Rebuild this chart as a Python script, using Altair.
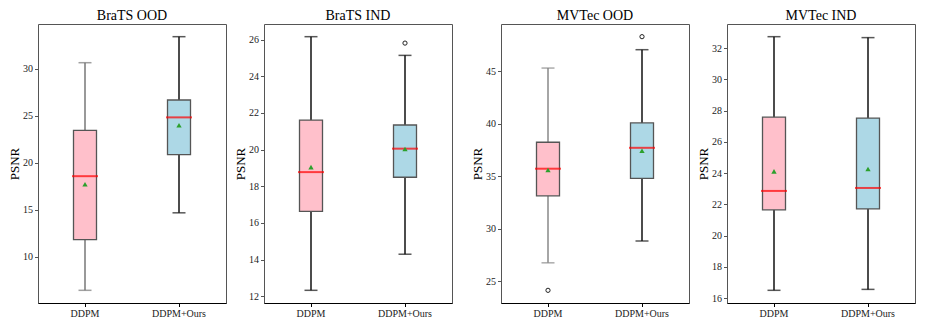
import altair as alt
import pandas as pd

panels = ["BraTS OOD", "BraTS IND", "MVTec OOD", "MVTec IND"]
methods = ["DDPM", "DDPM+Ours"]

whisker_low = [[6.4, 14.65], [12.32, 14.29], [26.75, 28.83], [16.5, 16.56]]
q1 = [[11.8, 20.85], [16.63, 18.49], [33.13, 34.79], [21.65, 21.71]]
median = [[18.55, 24.81], [18.77, 20.05], [35.72, 37.71], [22.86, 23.05]]
mean = [[17.7, 23.98], [19.04, 20.03], [35.59, 37.43], [24.11, 24.26]]
q3 = [[23.42, 26.66], [21.61, 21.34], [38.24, 40.08], [27.58, 27.52]]
whisker_high = [[30.63, 33.4], [26.16, 25.14], [45.31, 47.06], [32.73, 32.67]]
outliers = [[[], []], [[], [25.81]], [[24.13], [48.3]], [[], []]]
y_ticks = [
    [10, 15, 20, 25, 30],
    [12, 14, 16, 18, 20, 22, 24, 26],
    [25, 30, 35, 40, 45],
    [16, 18, 20, 22, 24, 26, 28, 30, 32],
]

# styling (not data)
box_colors = ["pink", "lightblue"]
whisker_colors = [["#777777", "#111111"], ["#111111", "#111111"],
                  ["#888888", "#111111"], ["#111111", "#111111"]]

FONT = "Liberation Serif"
W, H = 188, 279


def panel(i):
    rows = []
    for j, m in enumerate(methods):
        rows.append(dict(method=m, lo=whisker_low[i][j], q1=q1[i][j], med=median[i][j],
                         mean=mean[i][j], q3=q3[i][j], hi=whisker_high[i][j],
                         wc=whisker_colors[i][j]))
    df = pd.DataFrame(rows)
    out = pd.DataFrame([dict(method=m, v=v) for j, m in enumerate(methods) for v in outliers[i][j]],
                       columns=["method", "v"])
    allv = list(df.lo) + list(df.hi) + list(out.v)
    lo, hi = min(allv), max(allv)
    pad = (hi - lo) * 0.05
    yscale = alt.Scale(domain=[lo - pad, hi + pad], nice=False, zero=False)
    xenc = alt.X("method:N", sort=methods,
                 scale=alt.Scale(paddingInner=0, paddingOuter=0),
                 axis=alt.Axis(title=None, labelAngle=0))
    yaxis = alt.Axis(title="PSNR", values=y_ticks[i], grid=False, domain=False,
                     labelOverlap=False, labelFlush=False)

    def Y(field):
        return alt.Y(field, scale=yscale, axis=yaxis)

    base = alt.Chart(df)
    wcol = alt.Color("wc:N", scale=None)
    whisk_lo = base.mark_rule(strokeWidth=1.5).encode(x=xenc, y=Y("lo:Q"), y2="q1:Q", color=wcol)
    whisk_hi = base.mark_rule(strokeWidth=1.5).encode(x=xenc, y=Y("q3:Q"), y2="hi:Q", color=wcol)
    cap_lo = base.mark_tick(size=13, thickness=1.5).encode(x=xenc, y=Y("lo:Q"), color=wcol)
    cap_hi = base.mark_tick(size=13, thickness=1.5).encode(x=xenc, y=Y("hi:Q"), color=wcol)
    box = base.mark_bar(size=23, stroke="#555555", strokeWidth=1.3).encode(
        x=xenc, y=Y("q1:Q"), y2="q3:Q",
        color=alt.Color("method:N", scale=alt.Scale(domain=methods, range=box_colors), legend=None))
    med = base.mark_tick(size=26, thickness=2, color="red").encode(x=xenc, y=Y("med:Q"))
    mn = base.mark_point(shape="triangle-up", filled=True, size=28, color="#2ca02c", opacity=1).encode(
        x=xenc, y=Y("mean:Q"))
    layers = [whisk_lo, whisk_hi, cap_lo, cap_hi, box, med, mn]
    if len(out):
        fl = alt.Chart(out).mark_point(shape="circle", filled=False, size=18, color="#222222",
                                       strokeWidth=1, opacity=1).encode(x=xenc, y=Y("v:Q"))
        layers.append(fl)
    return alt.layer(*layers).properties(
        width=W, height=H,
        title=alt.Title(panels[i], fontSize=14, font=FONT, fontWeight="normal", color="black",
                        offset=1))


left = alt.hconcat(panel(0), panel(1), spacing=7)
right = alt.hconcat(panel(2), panel(3), spacing=7)
chart = alt.hconcat(left, right, spacing=18).properties(padding=0).configure_view(
    stroke="#555555", strokeWidth=1
).configure_axis(
    labelFont=FONT, titleFont=FONT, labelFontSize=10, titleFontSize=13,
    titleFontWeight="normal", labelColor="#222222", titleColor="black",
    tickColor="#555555", tickSize=3.5, labelPadding=2, titlePadding=1,
).configure_axisX(
    domainColor="black", domainWidth=1.2, tickColor="black"
)

chart.save("out.html", embed_options={"renderer": "svg", "actions": False})
